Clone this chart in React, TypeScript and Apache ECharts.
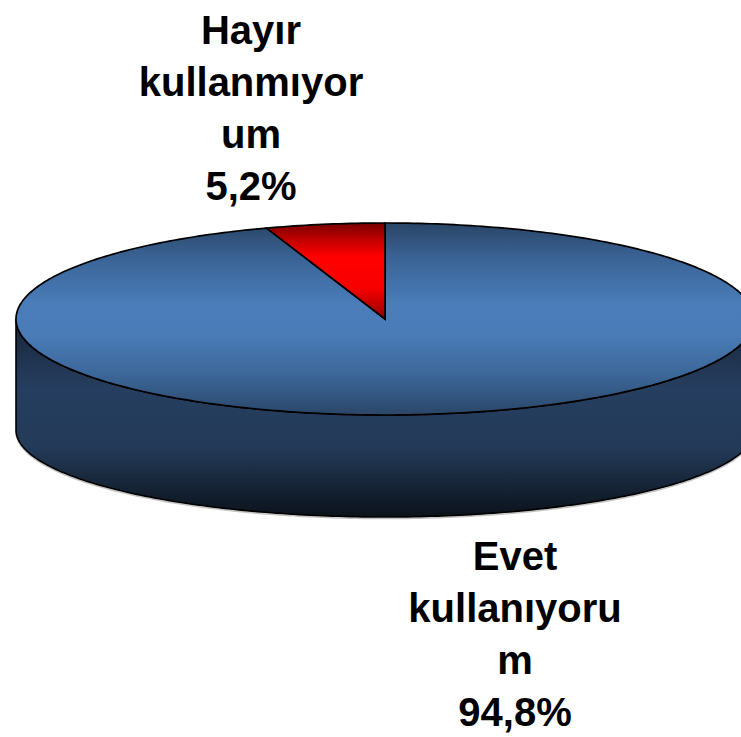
import React, { useEffect, useRef } from "react";
import * as echarts from "echarts";

const categories = ["Evet kullanıyorum", "Hayır kullanmıyorum"];
const values = [94.8, 5.2];
const labelLines = [
  ["Evet", "kullanıyoru", "m"],
  ["Hayır", "kullanmıyor", "um"],
];

const TOP_FILLS = [
  [
    { offset: 0, color: "#2a4567" },
    { offset: 0.18, color: "#3a6395" },
    { offset: 0.42, color: "#4a7dba" },
    { offset: 0.58, color: "#4a7cb8" },
    { offset: 0.8, color: "#3b6596" },
    { offset: 1, color: "#2a4668" },
  ],
  [
    { offset: 0, color: "#760000" },
    { offset: 0.15, color: "#b80000" },
    { offset: 0.35, color: "#ff0000" },
    { offset: 0.68, color: "#f80000" },
    { offset: 1, color: "#920000" },
  ],
];
const SIDE_FILL = [
  { offset: 0, color: "#17263a" },
  { offset: 0.35, color: "#263e5f" },
  { offset: 0.65, color: "#233a58" },
  { offset: 1, color: "#0b121b" },
];

const CX = 385;
const CY = 319;
const RX = 369;
const RY = 96;
const CY2 = 430;
const RY2 = 87;

function arc(cx: number, cy: number, rx: number, ry: number, a0: number, a1: number) {
  const n = Math.max(2, Math.ceil((Math.abs(a1 - a0) / (2 * Math.PI)) * 400));
  const pts: number[][] = [];
  for (let k = 0; k <= n; k++) {
    const a = a0 + ((a1 - a0) * k) / n;
    pts.push([cx + rx * Math.cos(a), cy + ry * Math.sin(a)]);
  }
  return pts;
}

export default function App() {
  const ref = useRef<HTMLDivElement>(null);
  useEffect(() => {
    if (!ref.current) return;
    const chart = echarts.init(ref.current, null, { renderer: "svg" });
    const total = values.reduce((s, v) => s + v, 0);
    let run = 0;
    const data = values.map((v, i) => {
      const item = { name: categories[i], value: [v, run, total] };
      run += v;
      return item;
    });

    const renderItem = (params: any, api: any) => {
      const i = params.dataIndex;
      const v = api.value(0);
      const cum = api.value(1);
      const tot = api.value(2);
      const a0 = -Math.PI / 2 + (2 * Math.PI * cum) / tot;
      const a1 = a0 + (2 * Math.PI * v) / tot;
      const children: any[] = [];

      // side (front half only)
      for (let k = -1; k <= 1; k++) {
        const lo = Math.max(a0, 2 * Math.PI * k);
        const hi = Math.min(a1, Math.PI + 2 * Math.PI * k);
        if (hi > lo) {
          const topPts = arc(CX, CY, RX, RY, lo, hi);
          const botPts = arc(CX, CY2, RX, RY2, hi, lo);
          children.push({
            type: "polyline",
            shape: { points: arc(CX, CY2 + 1.6, RX, RY2, lo, hi) },
            style: { stroke: "#c4c4c4", lineWidth: 1.5, fill: "none" },
          });
          children.push({
            type: "polygon",
            shape: { points: topPts.concat(botPts) },
            style: {
              fill: new echarts.graphic.LinearGradient(0, CY, 0, CY2 + RY2, SIDE_FILL, true),
              stroke: "#000",
              lineWidth: 1.6,
              lineJoin: "round",
            },
          });
        }
      }

      // top face
      const pts = [[CX, CY]].concat(arc(CX, CY, RX, RY, a0, a1));
      children.push({
        type: "polygon",
        shape: { points: pts },
        style: {
          fill: new echarts.graphic.LinearGradient(0, 0, 0, 1, TOP_FILLS[i]),
          stroke: "#000",
          lineWidth: 1.7,
          lineJoin: "miter",
        },
      });

      // label
      const m = (a0 + a1) / 2;
      const f = 2.2;
      const lx = CX + f * RX * Math.cos(m);
      const ly = CY + f * RY * Math.sin(m) + (Math.sin(m) > 0 ? CY2 - CY - 4 : -3);
      const pct = v.toFixed(1).replace(".", ",") + "%";
      children.push({
        type: "text",
        x: lx - 2,
        y: ly,
        style: {
          text: labelLines[i].concat([pct]).join("\n"),
          fill: "#000",
          fontSize: 40,
          fontWeight: "bold",
          fontFamily: '"Liberation Sans", Arial, sans-serif',
          align: "center",
          verticalAlign: "middle",
          lineHeight: 52,
        },
      });

      return { type: "group", children };
    };

    chart.setOption({
      animation: false,
      backgroundColor: "#ffffff",
      series: [
        {
          type: "custom",
          coordinateSystem: "none",
          renderItem,
          data,
          silent: true,
        },
      ],
    });
    return () => chart.dispose();
  }, []);
  return (
    <div
      ref={ref}
      style={{ position: "absolute", left: 0, top: 0, width: 741, height: 737 }}
    />
  );
}
